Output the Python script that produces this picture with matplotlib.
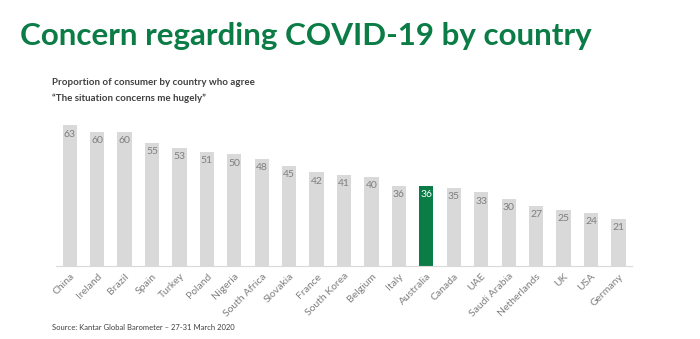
import matplotlib.pyplot as plt
import numpy as np

# data
countries = ["China", "Ireland", "Brazil", "Spain", "Turkey", "Poland", "Nigeria",
             "South Africa", "Slovakia", "France", "South Korea", "Belgium", "Italy",
             "Australia", "Canada", "UAE", "Saudi Arabia", "Netherlands", "UK", "USA",
             "Germany"]
values = [63, 60, 60, 55, 53, 51, 50, 48, 45, 42, 41, 40, 36, 36, 35, 33, 30, 27, 25, 24, 21]
highlight = "Australia"

green = "#0b7c46"
bar_grey = "#d9d9d9"
text_grey = "#7f7f7f"

plt.rcParams['font.family'] = ['Lato', 'DejaVu Sans']

fig = plt.figure(figsize=(7, 3.39), dpi=100)
ax = fig.add_axes([0.08, 0.215, 0.823, 0.461])

x = np.arange(len(countries))
colors = [green if c == highlight else bar_grey for c in countries]
bars = ax.bar(x, values, width=0.52, color=colors, zorder=2)

for xi, v, c in zip(x, values, countries):
    ax.annotate(str(v), (xi, v), xytext=(0, -3), textcoords="offset points",
                ha="center", va="top", fontsize=7.5,
                color="white" if c == highlight else text_grey)

ax.set_xlim(-0.5, len(countries) - 0.5)
ax.set_ylim(0, 70)
ax.set_xticks(x)
ax.set_xticklabels(countries, rotation=45, ha="right", rotation_mode="anchor",
                   fontsize=7.5, color=text_grey)
ax.tick_params(axis="x", length=0, pad=4)
ax.set_yticks([])
for s in ["top", "right", "left"]:
    ax.spines[s].set_visible(False)
ax.spines["bottom"].set_color(bar_grey)
ax.spines["bottom"].set_linewidth(0.8)

fig.text(0.029, 0.895, "Concern regarding COVID-19 by country", fontsize=22.6,
         fontweight="bold", color=green, va="center", ha="left")
fig.text(0.075, 0.757, "Proportion of consumer by country who agree",
         fontsize=7, fontweight="bold", color="#404040", va="center")
fig.text(0.075, 0.71, "\u201cThe situation concerns me hugely\u201d",
         fontsize=7, fontweight="bold", color="#404040", va="center")
fig.text(0.075, 0.035, "Source: Kantar Global Barometer \u2013 27-31 March 2020",
         fontsize=5.5, color="#404040", va="center")

fig.savefig("out.png", dpi=100)
